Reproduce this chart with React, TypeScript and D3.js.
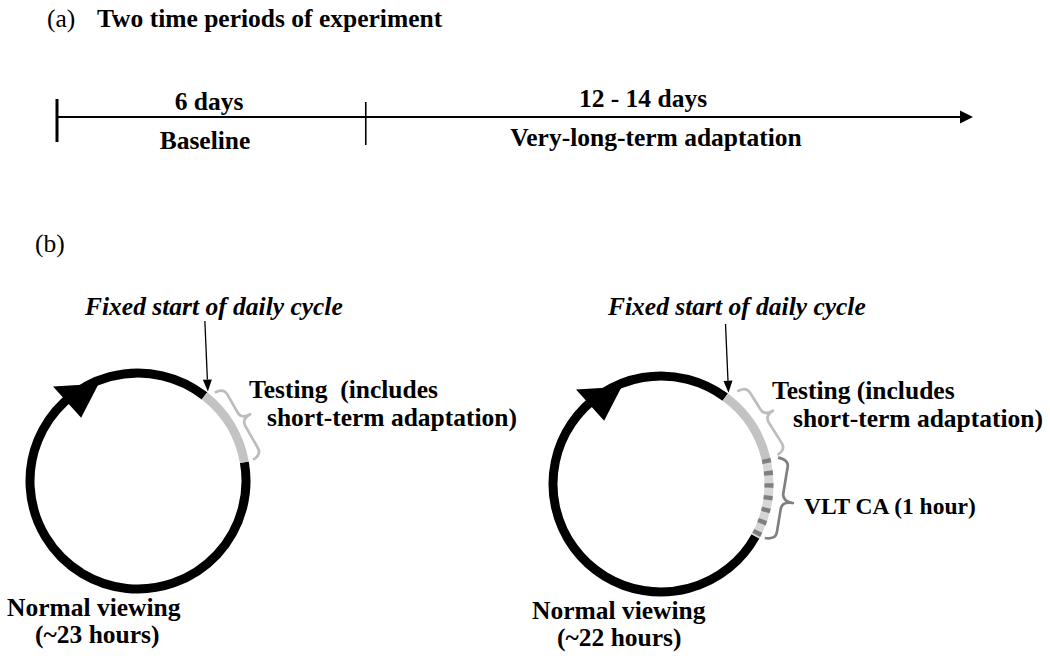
import React from "react";
import * as d3 from "d3";

// ---------- data ----------
const panelLabels = ["(a)", "(b)"];
const panelTitle = "Two time periods of experiment";

const periodBounds = [0, 6, 17.8]; // days along the timeline (last = arrow end)
const periodTop = ["6 days", "12 - 14 days"];
const periodBottom = ["Baseline", "Very-long-term adaptation"];

const cycleNames = ["baseline", "adaptation"];
const startLabels = ["Fixed start of daily cycle", "Fixed start of daily cycle"];
const testingLine1 = ["Testing  (includes", "Testing (includes"];
const testingLine2 = ["short-term adaptation)", "short-term adaptation)"];
const normalLine1 = ["Normal viewing", "Normal viewing"];
const normalLine2 = ["(~23 hours)", "(~22 hours)"];
const vltLabel = "VLT CA (1 hour)";

// angles in degrees, clockwise from 12 o'clock
const testingStartDeg = [38, 36.5];
const testingEndDeg = [80, 76.5];
const vltEndDeg = [null, 119];

// ---------- layout ----------
const W = 1050;
const H = 662;
const FONT = "'Liberation Serif', 'Times New Roman', serif";
const centers = [
  { cx: 138, cy: 481 },
  { cx: 661, cy: 484 },
];
const R = 108;
const RING = 9;

const rad = (d: number) => (d * Math.PI) / 180;
const pt = (cx: number, cy: number, r: number, deg: number): [number, number] => [
  cx + r * Math.sin(rad(deg)),
  cy - r * Math.cos(rad(deg)),
];

function arcPath(cx: number, cy: number, r: number, d0: number, d1: number) {
  const p = d3.path();
  p.arc(cx, cy, r, rad(d0) - Math.PI / 2, rad(d1) - Math.PI / 2, false);
  return p.toString();
}

// curly brace "}" from p1 to p2, bulging to the right of travel by w, tip at fraction t
function bracePath(p1: [number, number], p2: [number, number], w: number, t: number, hook = 8) {
  const dx = p2[0] - p1[0];
  const dy = p2[1] - p1[1];
  const L = Math.hypot(dx, dy);
  const a = [dx / L, dy / L];
  const n = [a[1], -a[0]];
  const P = (u: number, v: number) =>
    `${(p1[0] + u * a[0] + v * n[0]).toFixed(2)},${(p1[1] + u * a[1] + v * n[1]).toFixed(2)}`;
  const tu = t * L;
  const m = w / 2;
  return (
    `M${P(0, 0)} Q${P(0, m)} ${P(hook, m)} L${P(tu - hook, m)} Q${P(tu, m)} ${P(tu, w)} ` +
    `Q${P(tu, m)} ${P(tu + hook, m)} L${P(L - hook, m)} Q${P(L, m)} ${P(L, 0)}`
  );
}

function Cycle({ i }: { i: number }) {
  const { cx, cy } = centers[i];
  const s = testingStartDeg[i];
  const e = testingEndDeg[i];
  const v = vltEndDeg[i];
  const blackStart = v ?? e;
  // arrowhead on the ring
  const baseDeg = -42;
  const tipDeg = -22;
  const b1 = pt(cx, cy, R - 23, baseDeg);
  const b2 = pt(cx, cy, R + 19, baseDeg);
  const tip = pt(cx, cy, R - 3, tipDeg);
  // pointer arrow
  const pTip = pt(cx, cy, R + RING / 2 + 1, s);
  const pTop: [number, number] = [pTip[0] - 3, cy - 160];
  const ang = Math.atan2(pTip[1] - pTop[1], pTip[0] - pTop[0]);
  const ah = 12, aw = 4.5;
  const hb: [number, number] = [pTip[0] - ah * Math.cos(ang), pTip[1] - ah * Math.sin(ang)];
  const h1 = [hb[0] + aw * Math.sin(ang), hb[1] - aw * Math.cos(ang)];
  const h2 = [hb[0] - aw * Math.sin(ang), hb[1] + aw * Math.cos(ang)];

  const braceR = i === 0 ? 117 : 120;
  return (
    <g>
      <path d={arcPath(cx, cy, R, blackStart, s + 360)} fill="none" stroke="#000" strokeWidth={RING} />
      <path d={arcPath(cx, cy, R, s, e)} fill="none" stroke="#c3c3c3" strokeWidth={RING} />
      {v != null && (
        <>
          <path d={arcPath(cx, cy, R, e, v)} fill="none" stroke="#d6d6d6" strokeWidth={RING} />
          <path
            d={arcPath(cx, cy, R, e, v)}
            fill="none"
            stroke="#7f7f7f"
            strokeWidth={RING}
            strokeDasharray="4.5 7.8"
          />
        </>
      )}
      <polygon points={`${b1.join(",")} ${b2.join(",")} ${tip.join(",")}`} fill="#000" />
      <line x1={pTop[0]} y1={pTop[1]} x2={hb[0]} y2={hb[1]} stroke="#000" strokeWidth={1.3} />
      <polygon points={`${pTip.join(",")} ${h1.join(",")} ${h2.join(",")}`} fill="#000" />
      <path
        d={bracePath(pt(cx, cy, braceR, s + 3), pt(cx, cy, braceR, e - 0.5), 20, 0.47)}
        fill="none"
        stroke="#bdbdbd"
        strokeWidth={2.7}
        strokeLinejoin="round"
      />
      {v != null && (
        <path
          d={bracePath(pt(cx, cy, braceR, e + 0.8), pt(cx, cy, braceR - 3, v - 1.5), 22, 0.52)}
          fill="none"
          stroke="#808080"
          strokeWidth={2.7}
          strokeLinejoin="round"
        />
      )}
    </g>
  );
}

export default function App() {
  const x = d3.scaleLinear().domain([periodBounds[0], periodBounds[2]]).range([57, 973]);
  const lineY = 117;
  const bold = { fontFamily: FONT, fontWeight: 700, fontSize: 25.5, fill: "#000" } as const;
  const italic = { ...bold, fontStyle: "italic" } as const;
  const reg = { fontFamily: FONT, fontWeight: 400, fontSize: 25.5, fill: "#000" } as const;

  const textPos = [
    { start: [85, 315], t1: [249, 398], t2: [267, 426], n1: [7, 616], n2: [35, 643] },
    { start: [608, 315], t1: [772, 399], t2: [793, 427], n1: [532, 619], n2: [557, 646] },
  ];

  return (
    <svg
      width={W}
      height={H}
      style={{ position: "absolute", left: 0, top: 0, background: "#fff" }}
      xmlSpace="preserve"
    >
      <rect width={W} height={H} fill="#fff" />
      {/* panel (a) */}
      <text x={47} y={27} {...reg}>{panelLabels[0]}</text>
      <text x={97} y={27} {...bold}>{panelTitle}</text>

      <line x1={x(periodBounds[0])} x2={x(periodBounds[2]) - 12} y1={lineY} y2={lineY} stroke="#000" strokeWidth={2} />
      <polygon
        points={`${x(periodBounds[2]) - 13},${lineY - 6.5} ${x(periodBounds[2])},${lineY} ${x(periodBounds[2]) - 13},${lineY + 6.5}`}
        fill="#000"
      />
      <line x1={x(periodBounds[0])} x2={x(periodBounds[0])} y1={99} y2={142} stroke="#000" strokeWidth={3} />
      <line x1={x(periodBounds[1])} x2={x(periodBounds[1])} y1={102} y2={145} stroke="#000" strokeWidth={1.6} />

      <text x={209} y={110} textAnchor="middle" {...bold}>{periodTop[0]}</text>
      <text x={205} y={149} textAnchor="middle" {...bold}>{periodBottom[0]}</text>
      <text x={643} y={107} textAnchor="middle" {...bold}>{periodTop[1]}</text>
      <text x={656} y={146} textAnchor="middle" {...bold}>{periodBottom[1]}</text>

      {/* panel (b) */}
      <text x={35} y={252} {...reg}>{panelLabels[1]}</text>

      {cycleNames.map((name, i) => (
        <g key={name}>
          <Cycle i={i} />
          <text x={textPos[i].start[0]} y={textPos[i].start[1]} {...italic}>{startLabels[i]}</text>
          <text x={textPos[i].t1[0]} y={textPos[i].t1[1]} {...bold} style={{ whiteSpace: "pre" }}>{testingLine1[i]}</text>
          <text x={textPos[i].t2[0]} y={textPos[i].t2[1]} {...bold}>{testingLine2[i]}</text>
          <text x={textPos[i].n1[0]} y={textPos[i].n1[1]} {...bold}>{normalLine1[i]}</text>
          <text x={textPos[i].n2[0]} y={textPos[i].n2[1]} {...bold}>{normalLine2[i]}</text>
        </g>
      ))}
      <text x={804} y={514} {...bold} fontSize={23.5}>{vltLabel}</text>
    </svg>
  );
}
